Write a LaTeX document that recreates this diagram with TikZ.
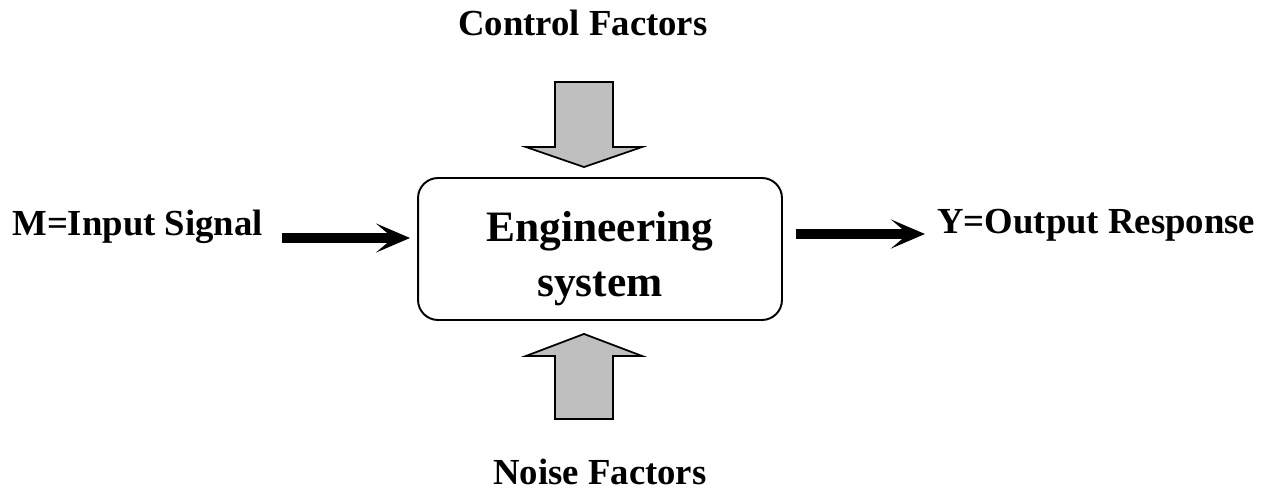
\documentclass[tikz,border=0pt]{standalone}
\usepackage{fontspec}
\setmainfont{Liberation Serif}
\usepackage{tikz}
\usetikzlibrary{arrows.meta,positioning}
\definecolor{factorgray}{RGB}{191,191,191}

\begin{document}
\begin{tikzpicture}[x=0.02cm, y=-0.02cm,
    label/.style={inner sep=0pt, font=\fontsize{20.9}{24}\selectfont\bfseries},
    sysbox/.style={draw, line width=1.1pt, rounded corners=0.4cm, minimum width=7.28cm, minimum height=2.84cm},
    systext/.style={align=center, inner sep=0pt, font=\fontsize{24.7}{31.2}\selectfont\bfseries},
    sigarrow/.style={line width=5.6pt, -{Stealth[length=0.68cm, width=0.58cm, inset=0.34cm]}},
    factorarrow/.style={draw, line width=1pt, fill=factorgray, line join=miter}]
    \useasboundingbox (0,0) rectangle (1269,490);
    % system block
    \node[sysbox] (sys) at (600,249) {};
    \node[systext] (systxt) at (600,259) {Engineering\\system};
    % labels
    \node[label, anchor=base west] (inp) at (12,235) {M=Input Signal};
    \node[label, anchor=base west] (outp) at (937,233) {Y=Output Response};
    \node[label, anchor=base] (ctrl) at (583,35) {Control Factors};
    \node[label, anchor=base] (noise) at (600,484) {Noise Factors};
    % signal arrows
    \draw[sigarrow] ([shift={(19,3)}]inp.base east) -- ([shift={(-7,-11)}]sys.west);
    \draw[sigarrow] ([shift={(13,-15)}]sys.east) -- ([shift={(-12,1)}]outp.base west);
    % factor arrows
    \coordinate (ctip) at ([shift={(-16,-10)}]sys.north);
    \coordinate (ntip) at ([shift={(-16,13)}]sys.south);
    \draw[factorarrow] (ctip) -- ++(-58,-20) -- ++(29,0) -- ++(0,-65) -- ++(58,0) -- ++(0,65) -- ++(29,0) -- cycle;
    \draw[factorarrow] (ntip) -- ++(-58,22) -- ++(29,0) -- ++(0,63) -- ++(58,0) -- ++(0,-63) -- ++(29,0) -- cycle;
\end{tikzpicture}
\end{document}
